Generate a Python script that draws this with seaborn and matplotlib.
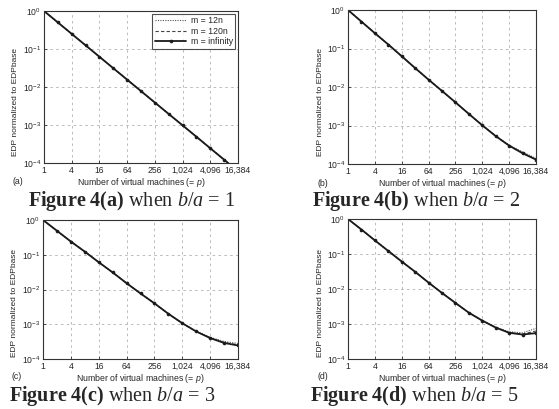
import numpy as np
import pandas as pd
import matplotlib
matplotlib.use("Agg")
import matplotlib.pyplot as plt
import matplotlib.ticker as mticker
import seaborn as sns

# ==============================
# DATA
# ==============================
p_values = [1, 2, 4, 8, 16, 32, 64, 128, 256, 512, 1024, 2048, 4096, 8192, 16384]
x_ticks = [1, 4, 16, 64, 256, 1024, 4096, 16384]
x_tick_labels = ["1", "4", "16", "64", "256", "1,024", "4,096", "16,384"]

# b/a = 1
edp_a_inf = [1.0, 0.5, 0.25, 0.125, 0.0625, 0.0312, 0.0156, 0.0078, 0.0039, 0.00195,
             0.00098, 0.00049, 0.000244, 0.000122, 0.000061]
edp_a_120 = [1.0, 0.5, 0.25, 0.125, 0.0625, 0.0312, 0.0156, 0.0078, 0.0039, 0.00195,
             0.00098, 0.00049, 0.000244, 0.000122, 0.000061]
edp_a_12 = [1.0, 0.5, 0.25, 0.125, 0.0625, 0.0312, 0.0156, 0.0078, 0.0039, 0.00195,
            0.00098, 0.00049, 0.000245, 0.000123, 0.000062]

# b/a = 2
edp_b_inf = [1.0, 0.5, 0.25, 0.127, 0.063, 0.031, 0.0155, 0.0079, 0.0040, 0.0020,
             0.00101, 0.00053, 0.00030, 0.00019, 0.00013]
edp_b_120 = [1.0, 0.5, 0.25, 0.127, 0.063, 0.031, 0.0155, 0.0079, 0.0040, 0.0020,
             0.00101, 0.00053, 0.00030, 0.000195, 0.000135]
edp_b_12 = [1.0, 0.5, 0.25, 0.127, 0.063, 0.031, 0.0155, 0.0079, 0.0040, 0.0020,
            0.00102, 0.00054, 0.00031, 0.000205, 0.00014]

# b/a = 3
edp_c_inf = [1.0, 0.49, 0.24, 0.123, 0.061, 0.031, 0.0152, 0.0077, 0.0040, 0.0020,
             0.00107, 0.00062, 0.00040, 0.00029, 0.000245]
edp_c_120 = [1.0, 0.49, 0.24, 0.123, 0.061, 0.031, 0.0152, 0.0077, 0.0040, 0.0020,
             0.00107, 0.00062, 0.00041, 0.00030, 0.000255]
edp_c_12 = [1.0, 0.49, 0.24, 0.123, 0.061, 0.031, 0.0152, 0.0077, 0.0040, 0.0020,
            0.00108, 0.00063, 0.00042, 0.00032, 0.00028]

# b/a = 5
edp_d_inf = [1.0, 0.5, 0.245, 0.122, 0.061, 0.031, 0.0152, 0.0077, 0.0040, 0.0021,
             0.00125, 0.00079, 0.00056, 0.00050, 0.00055]
edp_d_120 = [1.0, 0.5, 0.245, 0.122, 0.061, 0.031, 0.0152, 0.0077, 0.0040, 0.0021,
             0.00125, 0.00080, 0.00057, 0.00052, 0.00063]
edp_d_12 = [1.0, 0.5, 0.245, 0.122, 0.061, 0.031, 0.0152, 0.0077, 0.0040, 0.0021,
            0.00126, 0.00081, 0.00060, 0.00056, 0.00075]

panel_tags = ["(a)", "(b)", "(c)", "(d)"]
ratios = ["1", "2", "3", "5"]

# ==============================
# STYLE
# ==============================
sns.set_style("ticks")
plt.rcParams["font.family"] = ["Liberation Sans", "DejaVu Sans"]
plt.rcParams["mathtext.fontset"] = "custom"
plt.rcParams["mathtext.rm"] = "Liberation Serif"
plt.rcParams["mathtext.it"] = "Liberation Serif:italic"
plt.rcParams["mathtext.bf"] = "Liberation Serif:bold"
plt.rcParams["mathtext.sf"] = "Liberation Sans:italic"

fig = plt.figure(figsize=(5.59, 4.09), dpi=100)
W, H = 559, 409

# pixel boxes: left, right, top, bottom
boxes = [(44, 238, 11, 163), (348, 536, 10, 164), (43, 238, 220, 359), (348, 536, 219, 359)]
series = [(edp_a_12, edp_a_120, edp_a_inf), (edp_b_12, edp_b_120, edp_b_inf),
          (edp_c_12, edp_c_120, edp_c_inf), (edp_d_12, edp_d_120, edp_d_inf)]
caption_pos = [(28, 206), (312, 206), (9, 401), (310, 401)]


def draw_panel(ax, s12, s120, sinf, with_legend):
    sns.lineplot(x=p_values, y=s12, ax=ax, color="#555555", lw=0.8,
                 linestyle=(0, (1, 1.2)), label="m = 12n" if with_legend else None)
    sns.lineplot(x=p_values, y=s120, ax=ax, color="#444444", lw=0.8,
                 linestyle=(0, (3, 2)), label="m = 120n" if with_legend else None)
    sns.lineplot(x=p_values, y=sinf, ax=ax, color="#1a1a1a", lw=1.3, marker="o",
                 markersize=2.6, markeredgewidth=0, label="m = infinity" if with_legend else None)
    ax.set_xscale("log", base=2)
    ax.set_yscale("log")
    ax.set_xlim(1, 16384)
    ax.set_ylim(1e-4, 1)
    ax.set_xticks(x_ticks)
    ax.set_xticklabels(x_tick_labels)
    ax.xaxis.set_minor_locator(mticker.NullLocator())
    ax.yaxis.set_major_locator(mticker.FixedLocator([1e-4, 1e-3, 1e-2, 1e-1, 1]))
    ax.yaxis.set_minor_locator(mticker.NullLocator())
    ax.grid(True, color="#b0b0b0", linestyle=(0, (3, 4)), lw=0.6)
    ax.tick_params(direction="in", length=2, width=0.6, labelsize=6.2, pad=2, color="#333333")
    for sp in ax.spines.values():
        sp.set_color("#333333")
        sp.set_linewidth(0.8)
    ax.set_xlabel("Number of virtual machines (= $\\mathsf{p}$)", fontsize=6.3, labelpad=1)
    ax.set_ylabel("EDP normalized to EDPbase", fontsize=6.0)
    ax.yaxis.set_label_coords(-0.13, 0.4)
    if with_legend:
        leg = ax.legend(loc="upper right", fontsize=6.3, frameon=True, fancybox=False,
                        edgecolor="#222222", handlelength=3.6, borderpad=0.3,
                        labelspacing=0.15, borderaxespad=0.3, handletextpad=0.5)
        leg.get_frame().set_linewidth(0.8)
    elif ax.get_legend() is not None:
        ax.get_legend().remove()


for i, (l, r, t, b) in enumerate(boxes):
    ax = fig.add_axes([l / W, 1 - b / H, (r - l) / W, (b - t) / H])
    s12, s120, sinf = series[i]
    draw_panel(ax, s12, s120, sinf, i == 0)
    ax.text(-0.16, -0.125, panel_tags[i], transform=ax.transAxes, fontsize=6.3,
            ha="left", va="center")
    cx, cy = caption_pos[i]
    fig.text(cx / W, 1 - cy / H,
             "$\\mathbf{Figure\\ 4" + panel_tags[i] + "}$ when $b/a$ = " + ratios[i],
             family="Liberation Serif", fontsize=14.5, ha="left", va="baseline")

fig.savefig("out.png", dpi=100)
